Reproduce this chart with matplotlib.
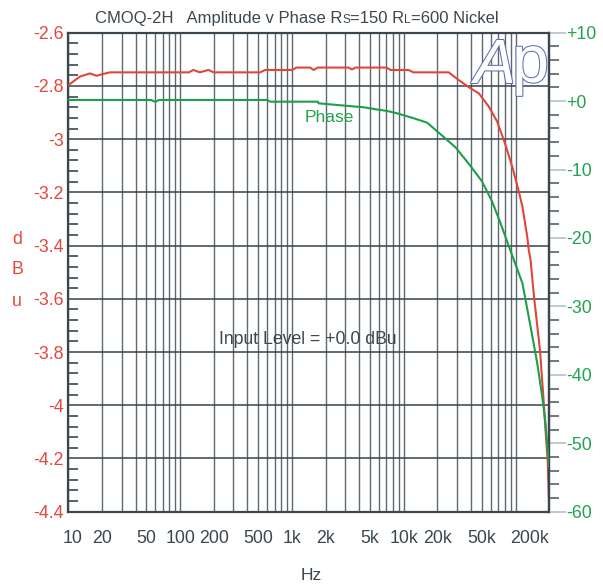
import matplotlib
matplotlib.use("Agg")
import matplotlib.pyplot as plt
from matplotlib.ticker import FixedLocator, MultipleLocator, FuncFormatter, NullFormatter
from matplotlib.transforms import ScaledTranslation
import matplotlib.patheffects as pe

plt.rcParams['font.family'] = ['Liberation Sans', 'DejaVu Sans']
plt.rcParams['axes.unicode_minus'] = False

# ---------------- data ----------------
amp_freq = [10, 12.7, 15.6, 17.9, 20.5, 23.6, 120, 131, 150, 179, 200, 520, 577, 1000,
            1100, 1450, 1560, 1700, 3200, 3440, 3700, 7000, 7600, 11000, 12200, 25200,
            31000, 39500, 46900, 57600, 68400, 81200, 93300, 107000, 115000, 127000,
            131000, 136000, 146000, 165000, 177000, 185000, 194000, 198000, 200000]
amp_dbu = [-2.797, -2.765, -2.753, -2.762, -2.755, -2.749, -2.749, -2.740, -2.749, -2.740,
           -2.749, -2.749, -2.740, -2.740, -2.731, -2.731, -2.740, -2.731, -2.731, -2.738,
           -2.731, -2.731, -2.740, -2.740, -2.749, -2.749, -2.778, -2.809, -2.828, -2.878,
           -2.934, -3.022, -3.104, -3.198, -3.254, -3.367, -3.417, -3.454, -3.592, -3.792,
           -3.968, -4.093, -4.218, -4.344, -4.36]

ph_freq = [10, 55, 60, 65, 600, 640, 1700, 1730, 3000, 4400, 5600, 7100, 8700, 12300,
           16200, 20500, 29000, 39500, 50200, 61700, 73300, 84100, 96400, 115000, 136000,
           156000, 173000, 185000, 198000, 200000]
ph_deg = [0.17, 0.17, -0.1, 0.17, 0.17, -0.08, -0.08, -0.32, -0.67, -0.9, -1.19, -1.44,
          -1.78, -2.51, -3.15, -4.6, -6.75, -9.48, -11.77, -14.7, -17.85, -20.54, -23.22,
          -26.6, -32.96, -38.3, -43.2, -47.1, -52.9, -53.5]

x_tick_vals = [10, 20, 50, 100, 200, 500, 1000, 2000, 5000, 10000, 20000, 50000, 200000]
x_tick_labels = ['10', '20', '50', '100', '200', '500', '1k', '2k', '5k', '10k', '20k', '50k', '200k']
right_tick_vals = [10, 0, -10, -20, -30, -40, -50, -60]
right_tick_labels = ['+10', '+0', '-10', '-20', '-30', '-40', '-50', '-60']

title_pieces = [("CMOQ-2H   Amplitude v Phase R", 12), ("S", 8.5), ("=150 R", 12),
                ("L", 8.5), ("=600 Nickel", 12)]
phase_label = "Phase"
note_text = "Input Level = +0.0 dBu"
x_label = "Hz"
y_label_letters = ["d", "B", "u"]

# ---------------- style ----------------
RED = '#e0463b'
GREEN = '#1f9e4a'
RED_TXT = '#e5473d'
GREEN_TXT = '#22a350'
DARK = '#3b4750'
GRID_H = '#36434b'
GRID_V = '#5d6971'
LIGHT_TICK = '#b4c0c8'
TICK_FS = 12.8

W, H = 603, 586
fig = plt.figure(figsize=(W / 100, H / 100), dpi=100)
L, R, T, B = 68.3, 549.3, 32.7, 511.7
ax = fig.add_axes([L / W, 1 - B / H, (R - L) / W, (B - T) / H])
ax2 = ax.twinx()

# amplitude (left)
ax.plot(amp_freq, amp_dbu, color=RED, lw=1.5, zorder=5, solid_joinstyle='round')
ax.set_xscale('log')
ax.set_xlim(10, 200000)
ax.set_ylim(-4.4, -2.6)
ax.yaxis.set_major_locator(MultipleLocator(0.2))
ax.yaxis.set_minor_locator(MultipleLocator(0.04))
ax.yaxis.set_major_formatter(FuncFormatter(lambda v, p: '%g' % round(v, 2)))
ax.tick_params(axis='y', which='major', length=0, pad=3, labelsize=TICK_FS, labelcolor=RED_TXT)
ax.tick_params(axis='y', which='minor', direction='in', length=7, width=1.2, color=DARK)

# x axis
all_minor = []
for dec in [10, 100, 1000, 10000, 100000]:
    for m in range(1, 10):
        v = dec * m
        if v <= 200000 and v not in x_tick_vals:
            all_minor.append(v)
ax.xaxis.set_major_locator(FixedLocator(x_tick_vals))
ax.xaxis.set_minor_locator(FixedLocator(all_minor))
ax.xaxis.set_minor_formatter(NullFormatter())
ax.set_xticklabels(x_tick_labels)
ax.tick_params(axis='x', which='both', length=0, pad=13, labelsize=TICK_FS, labelcolor=DARK)
xl = ax.get_xticklabels()
xl[-1].set_ha('right')
xl[0].set_transform(xl[0].get_transform() + ScaledTranslation(4.5 / 100, 0, fig.dpi_scale_trans))

ax.grid(True, axis='x', which='both', color=GRID_V, lw=1.0)
ax.grid(True, axis='y', which='major', color=GRID_H, lw=1.1)
ax.set_axisbelow(True)

for s in ['left', 'bottom', 'right', 'top']:
    ax.spines[s].set_color(DARK)
    ax.spines[s].set_linewidth(1.6)
    ax2.spines[s].set_visible(False)
ax2.spines['right'].set_visible(True)
ax2.spines['right'].set_color(DARK)
ax2.spines['right'].set_linewidth(1.6)

# phase (right)
ax2.plot(ph_freq, ph_deg, color=GREEN, lw=1.5, zorder=5, solid_joinstyle='round')
ax2.set_ylim(-60, 10)
ax2.yaxis.set_major_locator(FixedLocator(right_tick_vals))
ax2.set_yticklabels(right_tick_labels)
ax2.yaxis.set_minor_locator(MultipleLocator(2))
ax2.tick_params(axis='y', which='major', direction='out', length=12, width=1.2,
                color=LIGHT_TICK, pad=0, labelsize=TICK_FS, labelcolor=GREEN_TXT)
ax2.tick_params(axis='y', which='minor', direction='out', length=7, width=1.2, color='#56636b')

# annotations
fig.text(329 / W, 1 - 118 / H, phase_label, color=GREEN_TXT, fontsize=12.5, ha='center', va='center')
fig.text(308 / W, 1 - 339 / H, note_text, color=DARK, fontsize=12.7, ha='center', va='center')
fig.text(311 / W, 1 - 576 / H, x_label, color=DARK, fontsize=12.5, ha='center', va='center')
for i, ch in enumerate(y_label_letters):
    fig.text(17 / W, 1 - (239 + 31 * i) / H, ch, color=RED_TXT, fontsize=12.8, ha='center', va='center')

# Ap logo
logo_fx = [pe.withStroke(linewidth=1.5, foreground='#5a6fb6')]
fig.text(474 / W, 1 - 83 / H, "A", fontsize=45, style='italic', color='white',
         ha='left', va='baseline', path_effects=logo_fx, zorder=10)
fig.text(512 / W, 1 - 82 / H, "p", fontsize=48, color='white',
         ha='left', va='baseline', path_effects=logo_fx, zorder=10)

# title made of pieces (small capitals for S and L)
renderer = fig.canvas.get_renderer()
x = 95.0
for s, size in title_pieces:
    t = fig.text(x / W, 1 - 23 / H, s, fontsize=size, color=DARK, ha='left', va='baseline')
    bb = t.get_window_extent(renderer)
    x = bb.x1

fig.savefig('out.png', dpi=100)
